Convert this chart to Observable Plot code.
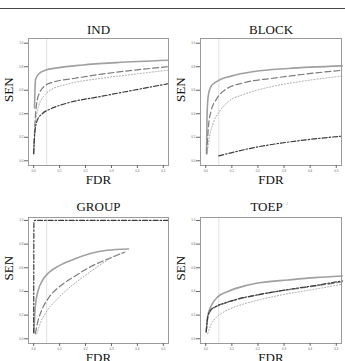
<!DOCTYPE html>
<html>
<head>
<meta charset="utf-8">
<script src="https://cdn.jsdelivr.net/npm/d3@7"></script>
<script src="https://cdn.jsdelivr.net/npm/@observablehq/plot@0.6"></script>
<style>
  html, body { margin: 0; padding: 0; background: #fff; }
  #wrap { position: relative; width: 345px; height: 361px; overflow: hidden; background: #fff; }
  #topline { position: absolute; left: 0; top: 7.5px; width: 345px; height: 1.5px; background: #474747; }
  .panel { position: absolute; }
</style>
</head>
<body>
<div id="wrap"><div id="topline"></div></div>
<script>
// ---- labels / ticks ----
const panelTitles = ["IND", "BLOCK", "GROUP", "TOEP"];
const xTicks = [0, 0.1, 0.2, 0.3, 0.4, 0.5];
const yTicks = [0, 0.2, 0.4, 0.6, 0.8, 1.0];
const fdrLevel = [0.05];
const xLabel = "FDR";
const yLabel = "SEN";
const methods = ["solid", "dashed", "dotted", "dashdot"];

// ---- IND ----
const IND_solid_fdr   = [0.003, 0.005, 0.007, 0.02, 0.045, 0.09, 0.19, 0.32, 0.517];
const IND_solid_sen   = [0.45, 0.61, 0.69, 0.74, 0.77, 0.79, 0.815, 0.835, 0.855];
const IND_dashed_fdr  = [0.0, 0.004, 0.011, 0.023, 0.045, 0.077, 0.154, 0.256, 0.384, 0.517];
const IND_dashed_sen  = [0.06, 0.28, 0.48, 0.58, 0.64, 0.67, 0.70, 0.735, 0.77, 0.80];
const IND_dotted_fdr  = [0.001, 0.008, 0.02, 0.039, 0.064, 0.128, 0.256, 0.384, 0.517];
const IND_dotted_sen  = [0.12, 0.34, 0.47, 0.55, 0.60, 0.65, 0.70, 0.735, 0.77];
const IND_dashdot_fdr = [0.0, 0.004, 0.013, 0.033, 0.064, 0.128, 0.256, 0.384, 0.517];
const IND_dashdot_sen = [0.06, 0.23, 0.34, 0.40, 0.44, 0.49, 0.546, 0.60, 0.655];

// ---- BLOCK ----
const BLOCK_solid_fdr   = [0.003, 0.005, 0.009, 0.02, 0.046, 0.097, 0.187, 0.315, 0.523];
const BLOCK_solid_sen   = [0.06, 0.37, 0.54, 0.63, 0.68, 0.72, 0.76, 0.785, 0.807];
const BLOCK_dashed_fdr  = [0.004, 0.01, 0.02, 0.04, 0.072, 0.149, 0.251, 0.38, 0.523];
const BLOCK_dashed_sen  = [0.06, 0.28, 0.42, 0.52, 0.60, 0.666, 0.70, 0.737, 0.77];
const BLOCK_dotted_fdr  = [0.005, 0.014, 0.027, 0.053, 0.085, 0.149, 0.251, 0.38, 0.523];
const BLOCK_dotted_sen  = [0.06, 0.20, 0.31, 0.42, 0.50, 0.567, 0.63, 0.68, 0.72];
const BLOCK_dashdot_fdr = [0.05, 0.187, 0.354, 0.523];
const BLOCK_dashdot_sen = [0.042, 0.113, 0.17, 0.21];

// ---- GROUP ----
const GROUP_solid_fdr   = [0.001, 0.006, 0.017, 0.033, 0.059, 0.097, 0.155, 0.219, 0.283, 0.366];
const GROUP_solid_sen   = [0.056, 0.266, 0.406, 0.49, 0.56, 0.616, 0.672, 0.72, 0.748, 0.759];
const GROUP_dashed_fdr  = [0.006, 0.017, 0.033, 0.059, 0.104, 0.155, 0.219, 0.283, 0.35];
const GROUP_dashed_sen  = [0.042, 0.154, 0.252, 0.35, 0.448, 0.524, 0.608, 0.672, 0.73];
const GROUP_dotted_fdr  = [0.012, 0.027, 0.052, 0.091, 0.142, 0.206, 0.27, 0.321, 0.353];
const GROUP_dotted_sen  = [0.042, 0.14, 0.238, 0.336, 0.44, 0.546, 0.644, 0.709, 0.734];
const GROUP_dashdot_fdr = [0.0, 0.001, 0.004, 0.52];
const GROUP_dashdot_sen = [0.05, 0.99, 1.0, 1.0];

// ---- TOEP ----
const TOEP_solid_fdr   = [0.003, 0.008, 0.021, 0.046, 0.085, 0.149, 0.213, 0.315, 0.418, 0.523];
const TOEP_solid_sen   = [0.08, 0.194, 0.278, 0.354, 0.40, 0.447, 0.475, 0.497, 0.517, 0.531];
const TOEP_dashed_fdr  = [0.001, 0.008, 0.018, 0.04, 0.072, 0.123, 0.2, 0.303, 0.418, 0.523];
const TOEP_dashed_sen  = [0.053, 0.18, 0.236, 0.27, 0.298, 0.334, 0.371, 0.41, 0.445, 0.482];
const TOEP_dotted_fdr  = [0.008, 0.021, 0.04, 0.072, 0.123, 0.2, 0.303, 0.418, 0.523];
const TOEP_dotted_sen  = [0.045, 0.124, 0.18, 0.23, 0.278, 0.326, 0.376, 0.419, 0.461];
const TOEP_dashdot_fdr = [0.002, 0.008, 0.018, 0.04, 0.072, 0.123, 0.2, 0.303, 0.418, 0.523];
const TOEP_dashdot_sen = [0.06, 0.19, 0.24, 0.275, 0.302, 0.336, 0.372, 0.412, 0.45, 0.49];

const curveData = {
  IND:   {solid: [IND_solid_fdr, IND_solid_sen], dashed: [IND_dashed_fdr, IND_dashed_sen], dotted: [IND_dotted_fdr, IND_dotted_sen], dashdot: [IND_dashdot_fdr, IND_dashdot_sen]},
  BLOCK: {solid: [BLOCK_solid_fdr, BLOCK_solid_sen], dashed: [BLOCK_dashed_fdr, BLOCK_dashed_sen], dotted: [BLOCK_dotted_fdr, BLOCK_dotted_sen], dashdot: [BLOCK_dashdot_fdr, BLOCK_dashdot_sen]},
  GROUP: {solid: [GROUP_solid_fdr, GROUP_solid_sen], dashed: [GROUP_dashed_fdr, GROUP_dashed_sen], dotted: [GROUP_dotted_fdr, GROUP_dotted_sen], dashdot: [GROUP_dashdot_fdr, GROUP_dashdot_sen]},
  TOEP:  {solid: [TOEP_solid_fdr, TOEP_solid_sen], dashed: [TOEP_dashed_fdr, TOEP_dashed_sen], dotted: [TOEP_dotted_fdr, TOEP_dotted_sen], dashdot: [TOEP_dashdot_fdr, TOEP_dashdot_sen]}
};

const lineStyles = {
  solid:   {stroke: "#a0a0a0", strokeWidth: 1.6},
  dashed:  {stroke: "#7c7c7c", strokeWidth: 1.2, strokeDasharray: "6,3"},
  dotted:  {stroke: "#a6a6a6", strokeWidth: 1, strokeDasharray: "1,2"},
  dashdot: {stroke: "#3c3c3c", strokeWidth: 1.2, strokeDasharray: "5,2,1.5,2"}
};

const layout = [
  {left: 0,   top: 0,   width: 172, height: 180, mt: 38, mb: 15, ml: 28, mr: 4, ydom: [-0.04, 1.04], tdy: -9, xdy: 14},
  {left: 172, top: 0,   width: 173, height: 180, mt: 38, mb: 15, ml: 28, mr: 4, ydom: [-0.04, 1.04], tdy: -9, xdy: 14},
  {left: 0,   top: 180, width: 172, height: 181, mt: 37, mb: 18, ml: 28, mr: 4, ydom: [-0.04, 1.025], tdy: -10.5, xdy: 14},
  {left: 172, top: 180, width: 173, height: 181, mt: 37, mb: 18, ml: 28, mr: 4, ydom: [-0.04, 1.025], tdy: -10.5, xdy: 14}
];

const serif = "'Liberation Serif', 'DejaVu Serif', serif";
const wrap = document.getElementById("wrap");

panelTitles.forEach((name, i) => {
  const L = layout[i];
  const lineMarks = methods.map(m => {
    const [fx, sy] = curveData[name][m];
    const rows = fx.map((f, k) => ({fdr: f, sen: sy[k]}));
    return Plot.line(rows, {x: "fdr", y: "sen", curve: "monotone-x", ...lineStyles[m]});
  });
  const titleMarks = name === "TOEP"
    ? [
        Plot.text([name], {frameAnchor: "top", dx: -4.5, dy: L.tdy, text: d => d, fontSize: 13, fontFamily: serif, fill: "#111", lineAnchor: "middle"}),
        Plot.text(["\u22121"], {frameAnchor: "top", dx: 12, dy: L.tdy - 4, text: d => d, fontSize: 5, fontFamily: serif, fill: "#aaa", textAnchor: "start", lineAnchor: "middle"})
      ]
    : [Plot.text([name], {frameAnchor: "top", dy: L.tdy, text: d => d, fontSize: 13, fontFamily: serif, fill: "#111", lineAnchor: "middle"})];

  const chart = Plot.plot({
    width: L.width,
    height: L.height,
    marginLeft: L.ml, marginRight: L.mr, marginTop: L.mt, marginBottom: L.mb,
    x: {domain: [-0.02, 0.52]},
    y: {domain: L.ydom},
    style: {overflow: "visible", background: "transparent", fontFamily: "'Liberation Sans', sans-serif"},
    marks: [
      Plot.ruleX(fdrLevel, {stroke: "#e2e2e2", strokeWidth: 1}),
      ...lineMarks,
      Plot.frame({stroke: "#9a9a9a", strokeWidth: 1}),
      Plot.axisX({ticks: xTicks, tickFormat: d => d.toFixed(1), tickSize: 3, tickPadding: 1.5, fontSize: 3, color: "#666", label: null}),
      Plot.axisY({ticks: yTicks, tickFormat: d => d.toFixed(1), tickSize: 4, tickPadding: 1, fontSize: 3, color: "#666", label: null}),
      ...titleMarks,
      Plot.text([yLabel], {frameAnchor: "left", dx: -20, rotate: -90, text: d => d, fontSize: 13, fontFamily: serif, fill: "#111", lineAnchor: "middle"}),
      Plot.text([xLabel], {frameAnchor: "bottom", dy: L.xdy, text: d => d, fontSize: 13, fontFamily: serif, fill: "#111", lineAnchor: "middle"})
    ]
  });
  const holder = document.createElement("div");
  holder.className = "panel";
  holder.style.left = L.left + "px";
  holder.style.top = L.top + "px";
  holder.appendChild(chart);
  wrap.appendChild(holder);
});
</script>
</body>
</html>
